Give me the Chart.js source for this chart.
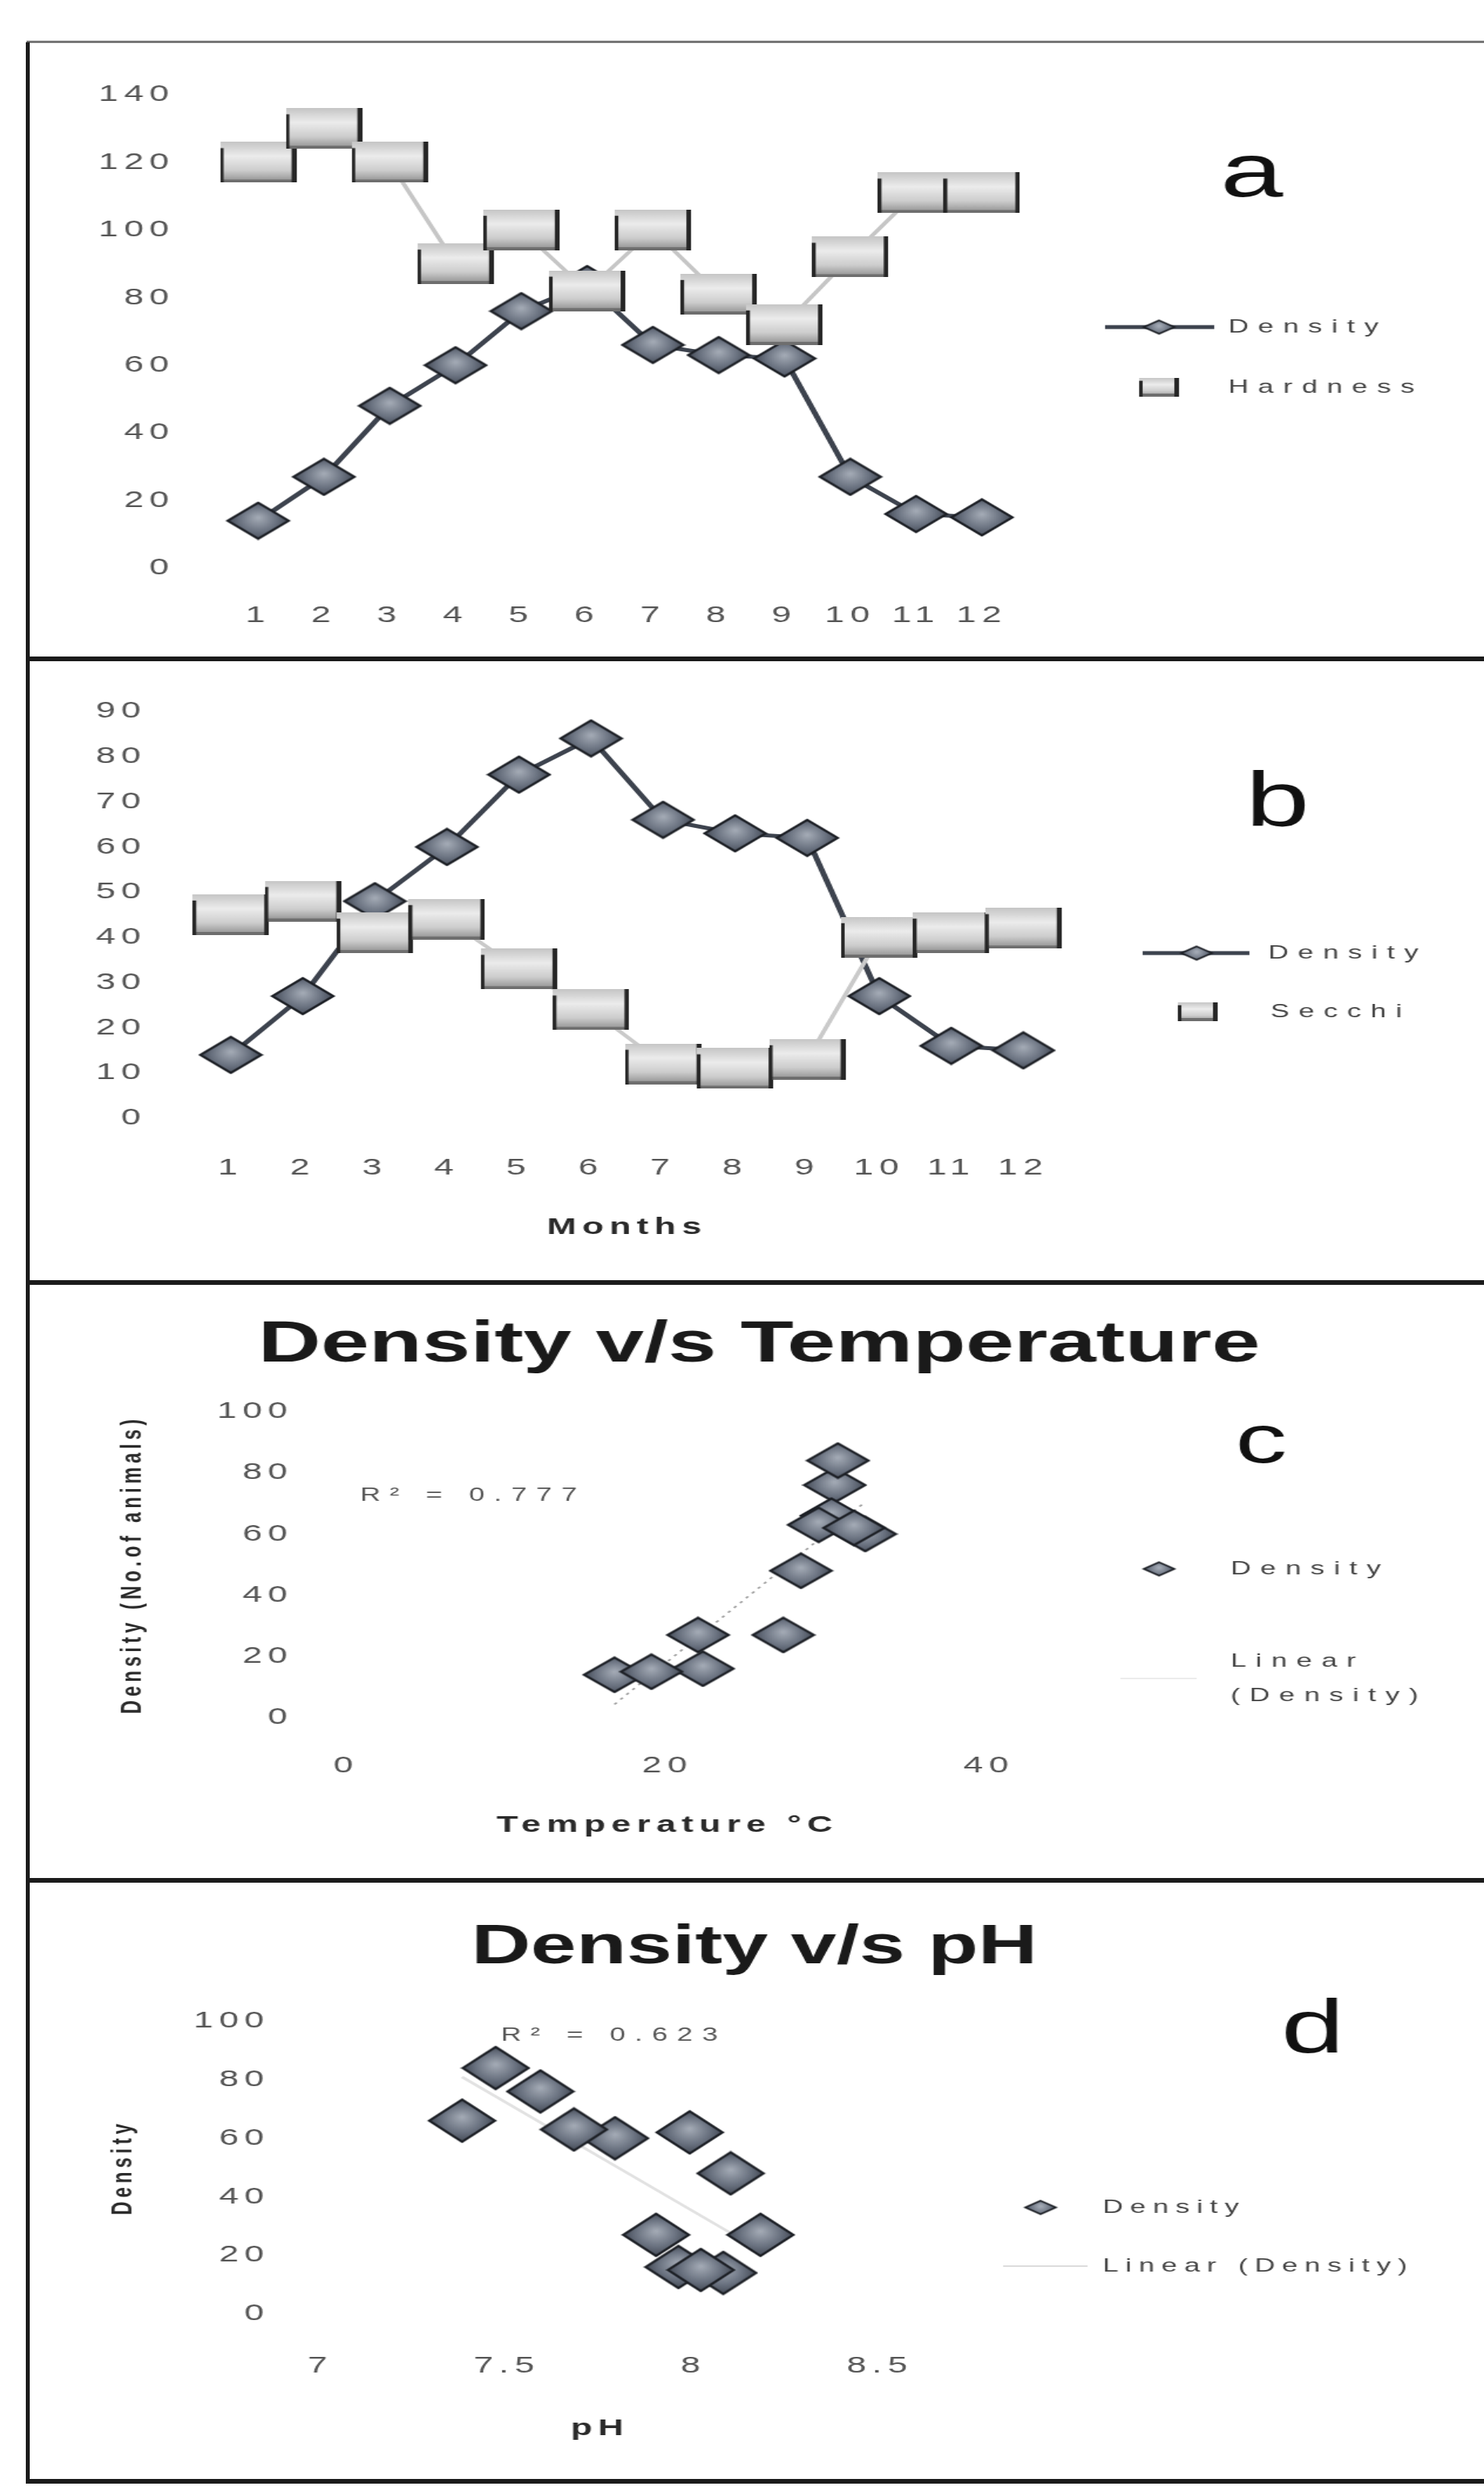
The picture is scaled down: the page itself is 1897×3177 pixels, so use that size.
<!DOCTYPE html>
<html>
<head>
<meta charset="utf-8">
<title>Density, hardness, Secchi, temperature and pH</title>
<script src="https://cdn.jsdelivr.net/npm/chart.js@4.4.1/dist/chart.umd.min.js"></script>
<style>
  body { margin: 0; background: #fff; }
  #page { position: relative; width: 1897px; height: 3177px; overflow: hidden; background: #fff; }
  #page canvas { position: absolute; left: 0; }
  .rule { position: absolute; background: #1b1b1b; }
</style>
</head>
<body>
<div id="page">
  <canvas id="chartA" width="1265" height="780" style="top:60px;width:1897px;height:780px"></canvas>
  <canvas id="chartB" width="1265" height="785" style="top:850px;width:1897px;height:785px"></canvas>
  <canvas id="chartC" width="1265" height="755" style="top:1645px;width:1897px;height:755px"></canvas>
  <canvas id="chartD" width="1265" height="760" style="top:2410px;width:1897px;height:760px"></canvas>

  <div class="rule" style="left:34px;top:52px;width:1863px;height:3px;background:#777"></div>
  <div class="rule" style="left:33px;top:54px;width:5px;height:3120px"></div>
  <div class="rule" style="left:33px;top:839px;width:1864px;height:6px"></div>
  <div class="rule" style="left:33px;top:1636px;width:1864px;height:6px"></div>
  <div class="rule" style="left:33px;top:2400px;width:1864px;height:6px"></div>
  <div class="rule" style="left:33px;top:3168px;width:1864px;height:6px"></div>
</div>
<script>
// monthly values
const months = ['1', '2', '3', '4', '5', '6', '7', '8', '9', '10', '11', '12'];
const density = [14, 27, 48, 60, 76, 84, 66, 63, 62, 27, 16, 15];
const hardness = [120, 130, 120, 90, 100, 82, 100, 81, 72, 92, 111, 111];
const secchi = [45, 48, 41, 44, 33, 24, 12, 11, 13, 40, 41, 42];
const temperature = [16.7, 21.9, 28.3, 32.3, 30.4, 30.6, 30.2, 29.4, 31.6, 27.2, 22.2, 19.0];
const ph = [8.08, 7.90, 8.10, 7.79, 7.59, 7.47, 7.38, 7.68, 7.99, 8.18, 7.96, 8.02];

// axis ranges: [min, max, step]
const hardnessAxis = [0, 140, 20];
const secchiAxis = [0, 90, 10];
const densityAxis = [0, 100, 20];
const temperatureAxis = [0, 40, 20];
const phAxis = [7, 8.5, 0.5];
const rSquared = ['0.777', '0.623'];

const FONT = "'Liberation Sans', Arial, sans-serif";
Chart.defaults.font.family = FONT;
Chart.defaults.color = '#555';

// the scan is stretched sideways, so every canvas is drawn narrow and widened by css

function makeDiamond(w, h, stroke) {
  const c = document.createElement('canvas');
  c.width = w;
  c.height = h;
  const g = c.getContext('2d');
  g.beginPath();
  g.moveTo(w / 2, 2);
  g.lineTo(w - 2, h / 2);
  g.lineTo(w / 2, h - 2);
  g.lineTo(2, h / 2);
  g.closePath();
  const fill = g.createRadialGradient(w / 2, h * 0.42, 1, w / 2, h / 2, w / 2);
  fill.addColorStop(0, '#a2a9b4');
  fill.addColorStop(0.55, '#6a7280');
  fill.addColorStop(1, '#3c424d');
  g.fillStyle = fill;
  g.fill();
  g.lineWidth = stroke;
  g.strokeStyle = '#1d2026';
  g.stroke();
  return c;
}

function makeBox(w, h) {
  const c = document.createElement('canvas');
  c.width = w;
  c.height = h;
  const g = c.getContext('2d');
  const fill = g.createLinearGradient(0, 0, 0, h);
  fill.addColorStop(0, '#c6c6c6');
  fill.addColorStop(0.35, '#ececec');
  fill.addColorStop(0.7, '#cdcdcd');
  fill.addColorStop(1, '#8c8c8c');
  g.fillStyle = fill;
  g.fillRect(0, 0, w, h);
  g.fillStyle = '#6e6e6e';
  g.fillRect(0, h - 4, w, 4);
  g.fillStyle = '#262626';
  g.fillRect(0, h * 0.15, 3, h * 0.85);
  g.fillRect(w - 4, 0, 4, h);
  return c;
}

function linearFit(xs, ys) {
  const n = xs.length;
  const mx = xs.reduce((s, v) => s + v, 0) / n;
  const my = ys.reduce((s, v) => s + v, 0) / n;
  let sxy = 0, sxx = 0;
  xs.forEach((x, i) => {
    sxy += (x - mx) * (ys[i] - my);
    sxx += (x - mx) * (x - mx);
  });
  const slope = sxy / sxx;
  const lo = Math.min(...xs), hi = Math.max(...xs);
  return [{ x: lo, y: my + slope * (lo - mx) }, { x: hi, y: my + slope * (hi - mx) }];
}

const lineMark = makeDiamond(56, 50, 2.5);
const boxMark = makeBox(65, 52);
const scatterMarkC = makeDiamond(56, 48, 2.5);
const scatterMarkD = makeDiamond(60, 58, 2.5);
const legendDiamond = makeDiamond(30, 21, 2);
const legendBox = makeBox(34, 24);

// panel letter, titles, R² notes and the legend at the side
const decor = (cfg) => ({
  id: 'decor',
  beforeDraw(chart) {
    chart.ctx.letterSpacing = '5px';
  },
  afterDraw(chart) {
    const ctx = chart.ctx;
    ctx.save();
    ctx.textBaseline = 'alphabetic';
    (cfg.texts || []).forEach(t => {
      ctx.font = t.font;
      ctx.fillStyle = t.color || '#111';
      ctx.letterSpacing = t.spacing || '0px';
      ctx.textAlign = t.align || 'center';
      ctx.fillText(t.text, t.x, t.y);
    });

    ctx.textBaseline = 'middle';
    ctx.textAlign = 'left';
    ctx.font = `24px ${FONT}`;
    ctx.letterSpacing = cfg.legendSpacing || '8px';
    cfg.legend.forEach(item => {
      const ds = chart.data.datasets[item.dataset];
      if (item.line) {
        ctx.beginPath();
        ctx.setLineDash([]);
        ctx.strokeStyle = item.lineColor || ds.borderColor;
        ctx.lineWidth = item.lineWidth || ds.borderWidth;
        ctx.moveTo(item.line[0], item.y);
        ctx.lineTo(item.line[1], item.y);
        ctx.stroke();
      }
      if (item.marker) {
        ctx.drawImage(item.marker, item.mx - item.marker.width / 2, item.y - item.marker.height / 2);
      }
      ctx.fillStyle = '#444';
      const lines = item.wrap || [ds.label];
      const ty = item.textY !== undefined ? item.textY : item.y;
      lines.forEach((txt, k) => ctx.fillText(txt, item.textX, ty + k * 44));
    });
    ctx.restore();
  }
});

const hideGrid = { display: false, drawTicks: false };
const noBorder = { display: false };
const tickFont = { size: 30 };
const baseOptions = {
  responsive: false,
  animation: false,
  events: [],
};

// a: density and hardness by month
new Chart(document.getElementById('chartA'), {
  type: 'line',
  data: {
    labels: months,
    datasets: [
      { label: 'Density', data: density, order: 2, borderColor: '#3d434e', borderWidth: 5, pointStyle: lineMark, clip: false },
      { label: 'Hardness', data: hardness, order: 1, borderColor: '#c6c6c6', borderWidth: 4, pointStyle: boxMark, clip: false },
    ]
  },
  options: {
    ...baseOptions,
    layout: { padding: { top: 39, right: 400, bottom: 0, left: 0 } },
    plugins: { legend: { display: false }, tooltip: { enabled: false } },
    scales: {
      x: {
        offset: true, grid: hideGrid, border: noBorder,
        ticks: { font: tickFont, padding: 43, maxRotation: 0, autoSkip: false },
        afterFit: s => { s.height = 114; }
      },
      y: {
        min: hardnessAxis[0], max: hardnessAxis[1], grid: hideGrid, border: noBorder,
        ticks: { stepSize: hardnessAxis[2], font: tickFont, padding: 43 },
        afterFit: s => { s.width = 192; }
      }
    }
  },
  plugins: [decor({
    texts: [{ text: 'a', x: 1067, y: 191, font: `96px ${FONT}` }],
    legend: [
      { dataset: 0, y: 358, line: [942, 1035], mx: 988, marker: legendDiamond, textX: 1047 },
      { dataset: 1, y: 435, mx: 988, marker: legendBox, textX: 1047 },
    ]
  })]
});

// b: density and Secchi transparency by month
new Chart(document.getElementById('chartB'), {
  type: 'line',
  data: {
    labels: months,
    datasets: [
      { label: 'Density', data: density, order: 2, borderColor: '#3d434e', borderWidth: 5, pointStyle: lineMark, clip: false },
      { label: 'Secchi', data: secchi, order: 1, borderColor: '#cacaca', borderWidth: 4, pointStyle: boxMark, clip: false },
    ]
  },
  options: {
    ...baseOptions,
    layout: { padding: { top: 49, right: 362, bottom: 0, left: 0 } },
    plugins: { legend: { display: false }, tooltip: { enabled: false } },
    scales: {
      x: {
        offset: true, grid: hideGrid, border: noBorder,
        ticks: { font: tickFont, padding: 46, maxRotation: 0, autoSkip: false },
        title: { display: true, text: 'Months', color: '#2a2a2a', font: { size: 30, weight: 'bold' }, padding: { top: 0, bottom: 48 } },
        afterFit: s => { s.height = 206; }
      },
      y: {
        min: secchiAxis[0], max: secchiAxis[1], grid: hideGrid, border: noBorder,
        ticks: { stepSize: secchiAxis[2], font: tickFont, padding: 41 },
        afterFit: s => { s.width = 166; }
      }
    }
  },
  plugins: [decor({
    texts: [{ text: 'b', x: 1089, y: 205, font: `98px ${FONT}` }],
    legend: [
      { dataset: 0, y: 368, line: [974, 1065], mx: 1020, marker: legendDiamond, textX: 1081 },
      { dataset: 1, y: 443, mx: 1021, marker: legendBox, textX: 1083 },
    ]
  })]
});

// c: density against temperature
new Chart(document.getElementById('chartC'), {
  type: 'scatter',
  data: {
    datasets: [
      { label: 'Density', data: temperature.map((t, i) => ({ x: t, y: density[i] })), order: 1, pointStyle: scatterMarkC, clip: false },
      { type: 'line', label: 'Linear (Density)', data: linearFit(temperature, density), order: 2, borderColor: '#a6a6a6', borderWidth: 2, borderDash: [3, 5], pointRadius: 0 },
    ]
  },
  options: {
    ...baseOptions,
    layout: { padding: { top: 159, right: 422, bottom: 0, left: 0 } },
    plugins: { legend: { display: false }, tooltip: { enabled: false } },
    scales: {
      x: {
        type: 'linear', min: temperatureAxis[0], max: temperatureAxis[1], grid: hideGrid, border: noBorder,
        ticks: { stepSize: temperatureAxis[2], font: tickFont, padding: 44 },
        title: { display: true, text: 'Temperature °C', color: '#2a2a2a', font: { size: 30, weight: 'bold' }, padding: { top: 0, bottom: 49 } },
        afterFit: s => { s.height = 205; }
      },
      y: {
        min: densityAxis[0], max: densityAxis[1], grid: hideGrid, border: noBorder,
        ticks: { stepSize: densityAxis[2], font: tickFont, padding: 45 },
        title: { display: true, text: 'Density (No.of animals)', color: '#2a2a2a', font: { size: 24, weight: 'bold' }, padding: { top: 99, bottom: 0 } },
        afterFit: s => { s.width = 295; }
      }
    }
  },
  plugins: [decor({
    texts: [
      { text: 'Density v/s Temperature', x: 647, y: 95, font: `bold 74px ${FONT}`, color: '#1a1a1a' },
      { text: 'c', x: 1075, y: 224, font: `88px ${FONT}` },
      { text: `R² = ${rSquared[0]}`, x: 307, y: 273, font: `24px ${FONT}`, color: '#555', spacing: '8px', align: 'left' },
    ],
    legend: [
      { dataset: 0, y: 360, mx: 988, marker: legendDiamond, textX: 1049 },
      { dataset: 1, y: 500, line: [955, 1020], lineColor: '#ececec', lineWidth: 2, textX: 1049, textY: 478, wrap: ['Linear', '(Density)'] },
    ]
  })]
});

// d: density against pH
new Chart(document.getElementById('chartD'), {
  type: 'scatter',
  data: {
    datasets: [
      { label: 'Density', data: ph.map((p, i) => ({ x: p, y: density[i] })), order: 1, pointStyle: scatterMarkD, clip: false },
      { type: 'line', label: 'Linear (Density)', data: linearFit(ph, density), order: 2, borderColor: '#e2e2e2', borderWidth: 3, pointRadius: 0 },
    ]
  },
  options: {
    ...baseOptions,
    layout: { padding: { top: 173, right: 515, bottom: 0, left: 0 } },
    plugins: { legend: { display: false }, tooltip: { enabled: false } },
    scales: {
      x: {
        type: 'linear', min: phAxis[0], max: phAxis[1], grid: hideGrid, border: noBorder,
        ticks: { stepSize: phAxis[2], font: tickFont, padding: 49, callback: v => String(v) },
        title: { display: true, text: 'pH', color: '#2a2a2a', font: { size: 30, weight: 'bold' }, padding: { top: 0, bottom: 48 } },
        afterFit: s => { s.height = 213; }
      },
      y: {
        min: densityAxis[0], max: densityAxis[1], grid: hideGrid, border: noBorder,
        ticks: { stepSize: densityAxis[2], font: tickFont, padding: 43 },
        title: { display: true, text: 'Density', color: '#2a2a2a', font: { size: 24, weight: 'bold' }, padding: { top: 91, bottom: 0 } },
        afterFit: s => { s.width = 273; }
      }
    }
  },
  plugins: [decor({
    texts: [
      { text: 'Density v/s pH', x: 643, y: 99, font: `bold 70px ${FONT}`, color: '#1a1a1a' },
      { text: 'd', x: 1119, y: 213, font: `97px ${FONT}` },
      { text: `R² = ${rSquared[1]}`, x: 427, y: 198, font: `24px ${FONT}`, color: '#555', spacing: '8px', align: 'left' },
    ],
    legendSpacing: '6px',
    legend: [
      { dataset: 0, y: 411, mx: 887, marker: legendDiamond, textX: 940 },
      { dataset: 1, y: 486, line: [855, 927], lineColor: '#dcdcdc', lineWidth: 2, textX: 940 },
    ]
  })]
});
</script>
</body>
</html>
